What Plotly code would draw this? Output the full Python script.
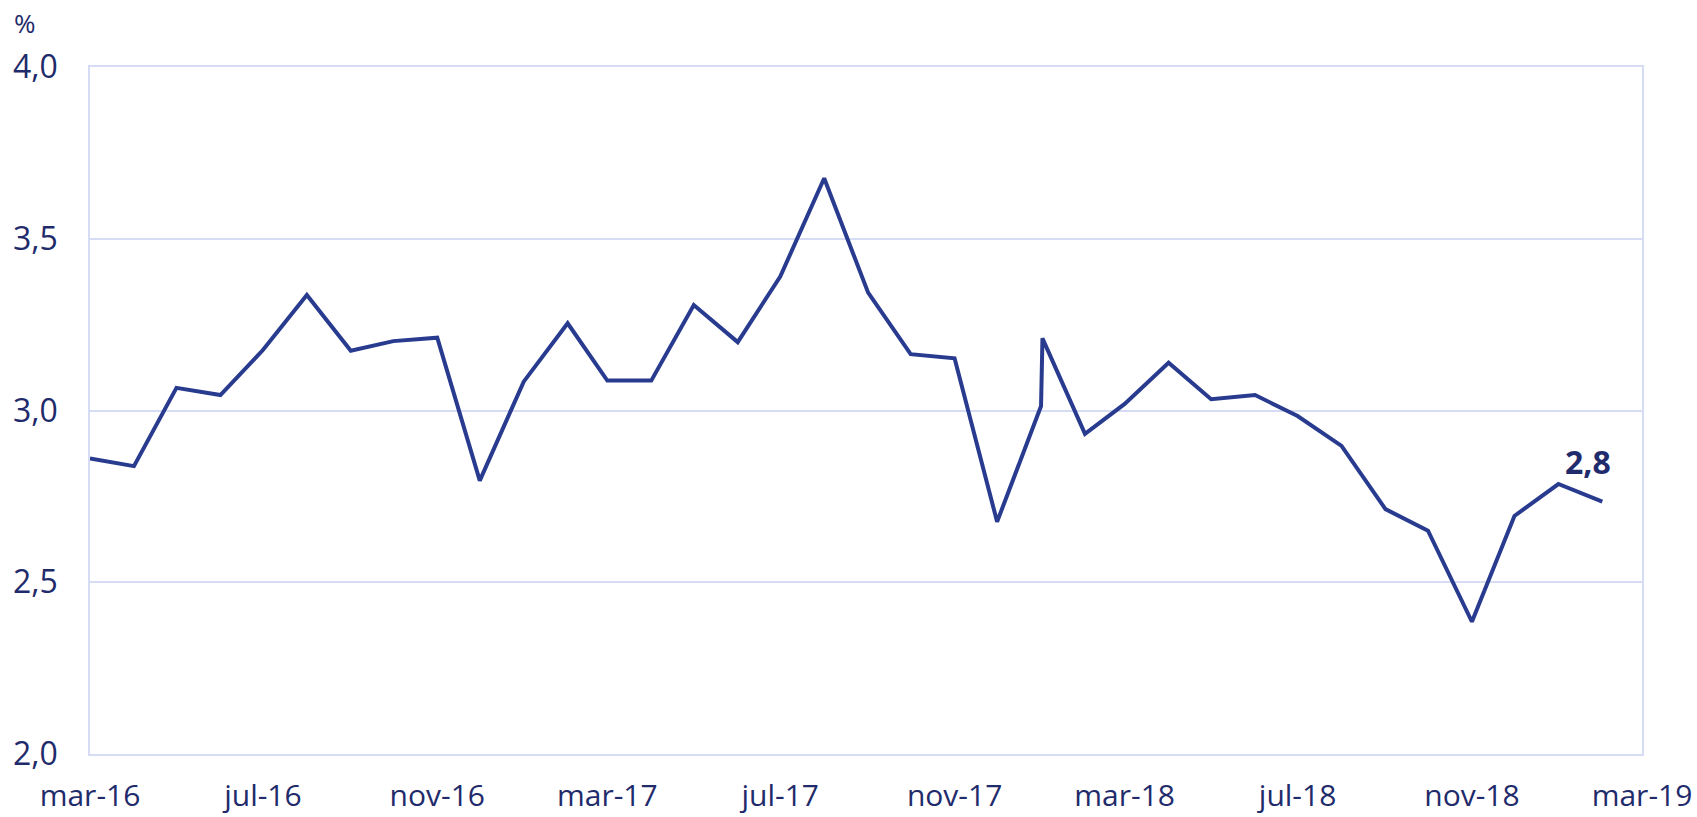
import plotly.graph_objects as go

dates = [
    "2016-03-01", "2016-04-01", "2016-05-01", "2016-06-01", "2016-07-01", "2016-08-01",
    "2016-09-01", "2016-10-01", "2016-11-01", "2016-12-01", "2017-01-01", "2017-02-01",
    "2017-03-01", "2017-04-01", "2017-05-01", "2017-06-01", "2017-07-01", "2017-08-01",
    "2017-09-01", "2017-10-01", "2017-11-01", "2017-12-01", "2018-01-01", "2018-01-02",
    "2018-02-01", "2018-03-01", "2018-04-01", "2018-05-01", "2018-06-01", "2018-07-01",
    "2018-08-01", "2018-09-01", "2018-10-01", "2018-11-01", "2018-12-01", "2019-01-01",
    "2019-02-01",
]
values = [
    2.860, 2.838, 3.066, 3.045, 3.176, 3.336,
    3.174, 3.202, 3.212, 2.796, 3.084, 3.254,
    3.087, 3.087, 3.307, 3.199, 3.390, 3.676,
    3.343, 3.164, 3.152, 2.676, 3.013, 3.210,
    2.932, 3.019, 3.139, 3.033, 3.045, 2.984,
    2.897, 2.713, 2.650, 2.385, 2.693, 2.786,
    2.735,
]
x_tickvals = ["2016-03-01", "2016-07-01", "2016-11-01", "2017-03-01", "2017-07-01",
              "2017-11-01", "2018-03-01", "2018-07-01", "2018-11-01", "2019-03-01"]
x_ticktext = ["mar-16", "jul-16", "nov-16", "mar-17", "jul-17",
              "nov-17", "mar-18", "jul-18", "nov-18", "mar-19"]
y_tickvals = [2.0, 2.5, 3.0, 3.5, 4.0]
y_ticktext = ["2,0", "2,5", "3,0", "3,5", "4,0"]
label_idx = 35  # jan-19 point carries the value label

LINE = "#283B8F"
TEXT = "#1F2B6B"
GRID = "#D6DCF4"
FONT = "Open Sans"

fig = go.Figure()
fig.add_trace(go.Scatter(
    x=dates, y=values, mode="lines",
    line=dict(color=LINE, width=4),
    hoverinfo="x+y",
))

fig.add_annotation(
    x=dates[label_idx], y=values[label_idx],
    text="<b>" + f"{values[label_idx]:.1f}".replace(".", ",") + "</b>",
    showarrow=False, xanchor="left", yanchor="bottom",
    xshift=5, yshift=-1,
    font=dict(family=FONT, size=32, color=TEXT),
)
fig.add_annotation(
    xref="paper", yref="paper",
    x=(25 - 90) / 1552, y=(754 - 23) / 687,
    text="%", showarrow=False, xanchor="center", yanchor="middle",
    font=dict(family=FONT, size=26, color=TEXT),
)

fig.update_layout(
    width=1697, height=817,
    margin=dict(l=90, r=55, t=67, b=63, autoexpand=False),
    paper_bgcolor="white", plot_bgcolor="white",
    showlegend=False,
    font=dict(family=FONT, color=TEXT),
)
fig.update_xaxes(
    type="date",
    range=["2016-03-01", "2019-03-01"],
    tickvals=x_tickvals, ticktext=x_ticktext,
    tickfont=dict(family=FONT, size=30, color=TEXT),
    showgrid=False, zeroline=False,
    showline=True, mirror=True, linecolor=GRID, linewidth=1.5,
    ticks="", ticklabelstandoff=14, ticklabeloverflow="allow",
)
fig.update_yaxes(
    range=[2.0, 4.0],
    tickvals=y_tickvals, ticktext=y_ticktext,
    tickfont=dict(family=FONT, size=32, color=TEXT),
    showgrid=True, gridcolor=GRID, gridwidth=1.5,
    zeroline=False,
    showline=True, mirror=True, linecolor=GRID, linewidth=1.5,
    ticks="", ticklabelstandoff=24, ticklabeloverflow="allow",
)

fig.write_html(
    "out.html",
    config={"displayModeBar": False},
    post_script="document.body.style.margin='0';document.body.style.overflow='hidden';",
)
